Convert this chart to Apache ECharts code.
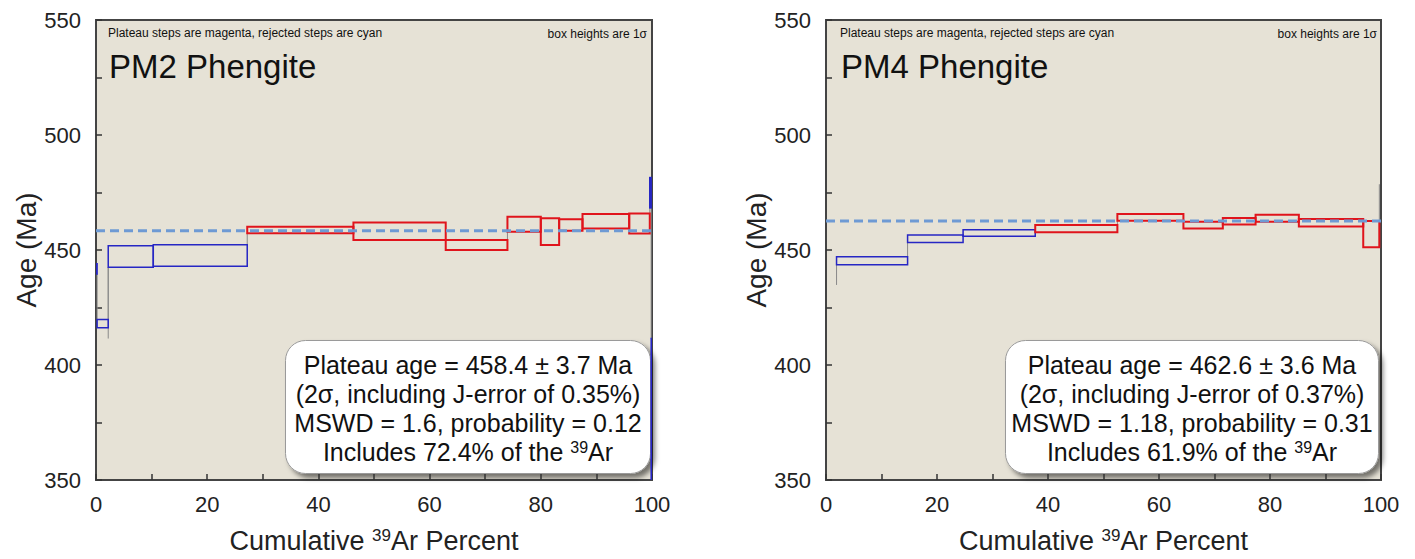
<!DOCTYPE html>
<html>
<head>
<meta charset="utf-8">
<script src="https://cdn.jsdelivr.net/npm/echarts@6/dist/echarts.min.js"></script>
<style>
html,body{margin:0;padding:0;background:#fff;}
#c{width:1415px;height:559px;}
</style>
</head>
<body>
<div id="c"></div>
<script>
// ---------- DATA ----------
// PM2 phengite: cumulative 39Ar boundaries (%), step ages (Ma), 1-sigma errors, plateau flag
const pm2Cum = [0, 0.2, 2.2, 10.3, 27.2, 46.3, 62.9, 74.0, 80.0, 83.3, 87.5, 95.9, 99.6, 99.85, 100];
const pm2Age = [441.8, 418.0, 447.2, 447.6, 458.7, 458.2, 452.2, 461.2, 458.0, 460.9, 462.5, 461.5, 474.9, 380.0];
const pm2Err = [2.2, 1.8, 4.7, 4.7, 1.45, 3.8, 2.2, 3.25, 5.85, 2.5, 3.1, 4.35, 6.6, 31.5];
const pm2Plateau = [0, 0, 0, 0, 1, 1, 1, 1, 1, 1, 1, 1, 0, 0];
const pm2PlateauAge = 458.4;
const pm2ExtraX = [2.2];
const pm2ExtraLo = [411.5];
const pm2ExtraHi = [442.5];

// PM4 phengite
const pm4Cum = [1.9, 14.7, 24.7, 37.7, 52.5, 64.4, 71.5, 77.4, 85.2, 96.8, 99.7];
const pm4Age = [445.3, 454.9, 457.4, 459.3, 464.2, 460.85, 462.5, 463.8, 461.85, 456.9];
const pm4Err = [1.75, 1.65, 1.45, 1.6, 1.45, 1.45, 1.45, 1.5, 1.6, 5.7];
const pm4Plateau = [0, 0, 0, 1, 1, 1, 1, 1, 1, 1];
const pm4PlateauAge = 462.6;
const pm4ExtraX = [1.9, 99.7];
const pm4ExtraLo = [434.8, 451.2];
const pm4ExtraHi = [443.6, 478.6];

// Axis ticks
const ageMin = 350, ageMax = 550, ageStep = 50;
const pctMin = 0, pctMax = 100, pctStep = 20;

// Texts
const pm2Title = 'PM2 Phengite';
const pm4Title = 'PM4 Phengite';
const noteLeft = 'Plateau steps are magenta, rejected steps are cyan';
const noteRight = 'box heights are 1σ';
const pm2Box = ['Plateau age = 458.4 ± 3.7 Ma', '(2σ, including J-error of 0.35%)', 'MSWD = 1.6, probability = 0.12', 'Includes 72.4% of the {s|39}Ar'];
const pm4Box = ['Plateau age = 462.6 ± 3.6 Ma', '(2σ, including J-error of 0.37%)', 'MSWD = 1.18, probability = 0.31', 'Includes 61.9% of the {s|39}Ar'];

// ---------- BUILD ----------
const FONT = '"Liberation Sans", Arial, sans-serif';
const RED = '#e0141c', BLUE = '#2626c4', DASH = '#6e9ad4', BG = '#e6e2d6';

function boxes(cum, age, err, plat) {
  return age.map((a, i) => [cum[i], cum[i + 1], a - err[i], a + err[i], plat[i]]);
}
function connectors(cum, age, err, ex, elo, ehi) {
  const out = [];
  for (let i = 0; i < age.length - 1; i++) {
    const lo1 = age[i] - err[i], hi1 = age[i] + err[i];
    const lo2 = age[i + 1] - err[i + 1], hi2 = age[i + 1] + err[i + 1];
    if (hi1 < lo2) out.push([cum[i + 1], hi1, lo2]);
    else if (hi2 < lo1) out.push([cum[i + 1], hi2, lo1]);
  }
  ex.forEach((x, i) => out.push([x, elo[i], ehi[i]]));
  return out;
}

const grids = [
  {left: 96, top: 20, width: 556, height: 462},
  {left: 826, top: 20, width: 555, height: 462}
];

function xAx(idx) {
  return {
    type: 'value', gridIndex: idx, min: pctMin, max: pctMax, interval: pctStep,
    axisLine: {show: false},
    axisTick: {show: true, inside: true, length: 6, lineStyle: {color: '#333', width: 1.5}},
    minorTick: {show: true, splitNumber: 2, length: 6, lineStyle: {color: '#333', width: 1.5}},
    splitLine: {show: false},
    axisLabel: {fontFamily: FONT, fontSize: 22, color: '#222', margin: 13},
    name: '{n|Cumulative }{s|39}{n|Ar Percent}',
    nameLocation: 'middle', nameGap: 47,
    nameTextStyle: {rich: {
      n: {fontFamily: FONT, fontSize: 27, color: '#222'},
      s: {fontFamily: FONT, fontSize: 17, color: '#222', padding: [0, 0, 10, 0]}
    }}
  };
}
function yAx(idx, gap) {
  return {
    type: 'value', gridIndex: idx, min: ageMin, max: ageMax, interval: ageStep,
    axisLine: {show: false},
    axisTick: {show: true, inside: true, length: 6, lineStyle: {color: '#333', width: 1.5}},
    minorTick: {show: true, splitNumber: 2, length: 6, lineStyle: {color: '#333', width: 1.5}},
    splitLine: {show: false},
    axisLabel: {fontFamily: FONT, fontSize: 22, color: '#222', margin: 15},
    name: 'Age (Ma)', nameLocation: 'middle', nameGap: gap, nameRotate: 90,
    nameTextStyle: {fontFamily: FONT, fontSize: 28, color: '#222'}
  };
}

function boxSeries(idx, data) {
  return {
    type: 'custom', xAxisIndex: idx, yAxisIndex: idx, z: 3, clip: true,
    data: data,
    renderItem: function (params, api) {
      const p0 = api.coord([api.value(0), api.value(3)]);
      const p1 = api.coord([api.value(1), api.value(2)]);
      const plat = api.value(4) === 1;
      return {
        type: 'rect',
        shape: {x: p0[0], y: p0[1], width: p1[0] - p0[0], height: p1[1] - p0[1]},
        style: {fill: 'none', stroke: plat ? RED : BLUE, lineWidth: plat ? 2 : 1.5}
      };
    }
  };
}
function connSeries(idx, data) {
  return {
    type: 'custom', xAxisIndex: idx, yAxisIndex: idx, z: 2, clip: true,
    data: data,
    renderItem: function (params, api) {
      const a = api.coord([api.value(0), api.value(1)]);
      const b = api.coord([api.value(0), api.value(2)]);
      return {type: 'line', shape: {x1: a[0], y1: a[1], x2: b[0], y2: b[1]},
              style: {stroke: '#8a8a8a', lineWidth: 1}};
    }
  };
}
function plateauSeries(idx, age) {
  return {
    type: 'line', xAxisIndex: idx, yAxisIndex: idx, z: 4, symbol: 'none', silent: true,
    data: [[pctMin, age], [pctMax, age]],
    lineStyle: {color: DASH, width: 3, type: [9, 5]}
  };
}

function infoBox(x, y, w, h, lines) {
  return {
    type: 'group', left: x, top: y, z: 100,
    children: [
      {type: 'rect', shape: {x: 0, y: 0, width: w, height: h, r: 20},
       style: {fill: '#ffffff', stroke: '#9a9a9a', lineWidth: 1,
               shadowBlur: 5, shadowOffsetX: 4, shadowOffsetY: 4, shadowColor: 'rgba(0,0,0,0.5)'}},
      {type: 'text', x: w / 2, y: h / 2 + 1,
       style: {text: lines.join('\n'), font: '25px ' + FONT, fill: '#111', align: 'center',
               verticalAlign: 'middle', lineHeight: 29,
               rich: {s: {fontSize: 16, fontFamily: FONT, fill: '#111', padding: [0, 0, 9, 0]}}}}
    ]
  };
}

function plainText(x, y, txt, size, align) {
  return {type: 'text', x: x, y: y, z: 50,
          style: {text: txt, font: size + 'px ' + FONT, fill: '#111', align: align || 'left', verticalAlign: 'middle'}};
}

const chart = echarts.init(document.getElementById('c'), null, {renderer: 'svg'});
chart.setOption({
  animation: false,
  backgroundColor: '#ffffff',
  grid: grids.map(g => Object.assign({show: true, backgroundColor: BG, borderColor: '#444', borderWidth: 2}, g)),
  xAxis: [xAx(0), xAx(1)],
  yAxis: [yAx(0, 52), yAx(1, 56)],
  series: [
    connSeries(0, connectors(pm2Cum, pm2Age, pm2Err, pm2ExtraX, pm2ExtraLo, pm2ExtraHi)),
    boxSeries(0, boxes(pm2Cum, pm2Age, pm2Err, pm2Plateau)),
    plateauSeries(0, pm2PlateauAge),
    connSeries(1, connectors(pm4Cum, pm4Age, pm4Err, pm4ExtraX, pm4ExtraLo, pm4ExtraHi)),
    boxSeries(1, boxes(pm4Cum, pm4Age, pm4Err, pm4Plateau)),
    plateauSeries(1, pm4PlateauAge)
  ],
  graphic: [
    plainText(108, 33, noteLeft, 12),
    plainText(647, 34, noteRight, 12, 'right'),
    plainText(109, 66, pm2Title, 33),
    plainText(840, 33, noteLeft, 12),
    plainText(1377, 34, noteRight, 12, 'right'),
    plainText(841, 66, pm4Title, 33),
    infoBox(285, 340, 365, 133, pm2Box),
    infoBox(1005, 340, 373, 133, pm4Box)
  ]
});
</script>
</body>
</html>
